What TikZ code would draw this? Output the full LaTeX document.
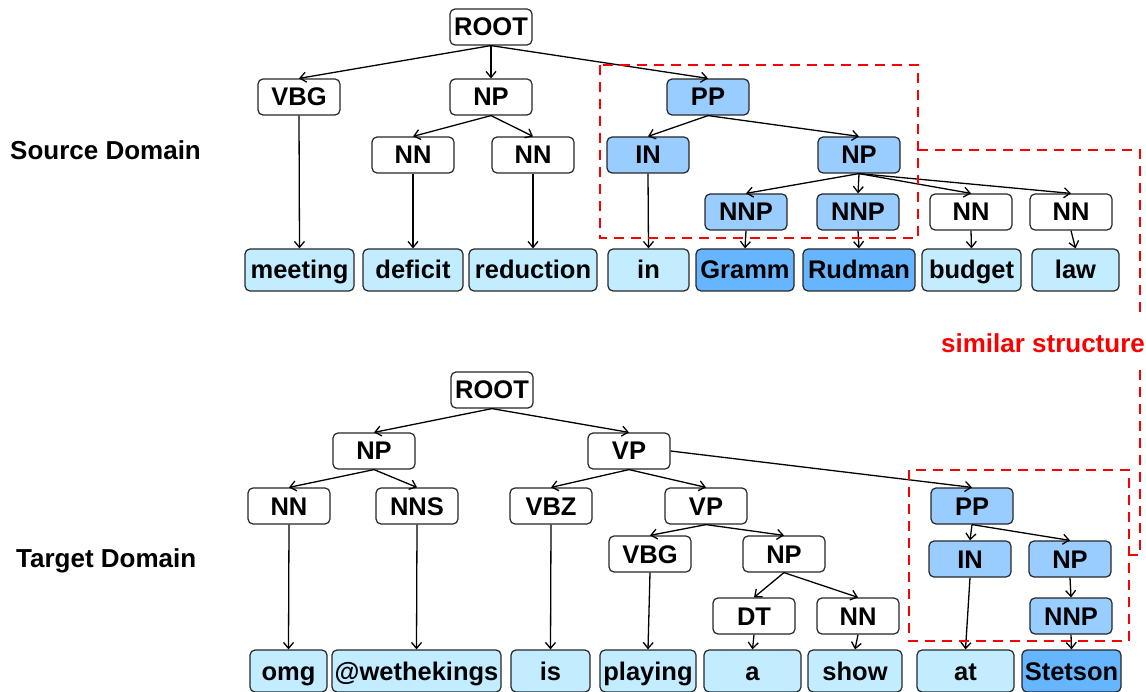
\documentclass[tikz,border=0pt]{standalone}
\usepackage{fontspec}
\setmainfont{Liberation Sans}
\usepackage{xcolor}
\usetikzlibrary{arrows.meta}
\definecolor{tagblue}{RGB}{153,204,255}
\definecolor{wordcyan}{RGB}{194,236,255}
\definecolor{wordblue}{RGB}{102,181,255}
\definecolor{simred}{RGB}{250,0,0}

\begin{document}
\begin{tikzpicture}[x=1pt,y=-1pt]
\tikzset{>={Straight Barb[width=10pt,length=6pt]}}
\tikzstyle{tagbox} =[draw=black!85, rounded corners=5pt, fill=white, line width=1.2pt, minimum width=82pt, minimum height=36pt, inner sep=0pt, text height=18pt, text depth=0pt, font=\fontsize{25.5}{30}\selectfont\bfseries]
\tikzstyle{hotbox} =[tagbox, fill=tagblue]
\tikzstyle{wordbox} =[tagbox, fill=wordcyan, minimum height=42pt]
\tikzstyle{hotword} =[wordbox, fill=wordblue]
\tikzstyle{sidelabel} =[font=\fontsize{26}{30}\selectfont\bfseries, inner sep=0pt]
\tikzstyle{simbox} =[draw=simred, line width=2.8pt, dash pattern=on 10pt off 7pt]
\tikzstyle{link} =[->, line width=1.3pt]

\useasboundingbox (0,0) rectangle (1146,692);

% domain labels
\node[sidelabel, anchor=west](srcLabel) at (10,150){Source Domain};
\node[sidelabel, anchor=west](tgtLabel) at (16,561){Target Domain};

% source tree
\node[tagbox](sRoot) at (491,27){ROOT};
\node[tagbox](sVBG) at (299,97){VBG};
\node[tagbox](sNP) at (491,97){NP};
\node[hotbox](sPP) at (708,97){PP};
\node[tagbox](sNN1) at (413,155){NN};
\node[tagbox](sNN2) at (533,155){NN};
\node[hotbox](sIN) at (648,155){IN};
\node[hotbox](sNP2) at (859,155){NP};
\node[hotbox](sNNP1) at (746,212){NNP};
\node[hotbox](sNNP2) at (858,212){NNP};
\node[tagbox](sNN3) at (971,212){NN};
\node[tagbox](sNN4) at (1071,212){NN};

\node[wordbox, minimum width=109pt](sW1) at (299.5,270){meeting};
\node[wordbox, minimum width=100pt](sW2) at (413,270){deficit};
\node[wordbox, minimum width=128pt](sW3) at (533,270){reduction};
\node[wordbox, minimum width=81pt](sW4) at (648.5,270){in};
\node[hotword, minimum width=98pt](sW5) at (745,270){Gramm};
\node[hotword, minimum width=112pt](sW6) at (859,270){Rudman};
\node[wordbox, minimum width=99pt](sW7) at (971.5,270){budget};
\node[wordbox, minimum width=87pt](sW8) at (1075.5,270){law};

\draw [link] (sRoot.south) to (sVBG.north);
\draw [link] (sRoot.south) to (sNP.north);
\draw [link] (sRoot.south) to (sPP.north);
\draw [link] (sNP.south) to (sNN1.north);
\draw [link] (sNP.south) to (sNN2.north);
\draw [link] (sPP.south) to (sIN.north);
\draw [link] (sPP.south) to (sNP2.north);
\draw [link] (sNP2.south) to (sNNP1.north);
\draw [link] (sNP2.south) to (sNNP2.north);
\draw [link] (sNP2.south) to (sNN3.north);
\draw [link] (sNP2.south) to (sNN4.north);
\draw [link] (sVBG.south) to (sW1.north);
\draw [link] (sNN1.south) to (sW2.north);
\draw [link] (sNN2.south) to (sW3.north);
\draw [link] (sIN.south) to (sW4.north);
\draw [link] (sNNP1.south) to (sW5.north);
\draw [link] (sNNP2.south) to (sW6.north);
\draw [link] (sNN3.south) to (sW7.north);
\draw [link] (sNN4.south) to (sW8.north);

% target tree
\node[tagbox](tRoot) at (492,390){ROOT};
\node[tagbox](tNP) at (374,451){NP};
\node[tagbox](tVP) at (629,451){VP};
\node[tagbox](tNN) at (289,506){NN};
\node[tagbox](tNNS) at (417,506){NNS};
\node[tagbox](tVBZ) at (551,506){VBZ};
\node[tagbox](tVP2) at (706,506){VP};
\node[hotbox](tPP) at (972,506){PP};
\node[tagbox](tVBG) at (650,554){VBG};
\node[tagbox](tNP2) at (784,554){NP};
\node[hotbox](tIN) at (970,559){IN};
\node[hotbox](tNP3) at (1070,559){NP};
\node[tagbox](tDT) at (754,616){DT};
\node[tagbox](tNN2) at (858,616){NN};
\node[hotbox](tNNP) at (1071,616){NNP};

\node[wordbox, minimum width=77pt](tW1) at (288.5,671){omg};
\node[wordbox, minimum width=169pt](tW2) at (416.5,671){@wethekings};
\node[wordbox, minimum width=79pt](tW3) at (550.5,671){is};
\node[wordbox, minimum width=96pt](tW4) at (648,671){playing};
\node[wordbox, minimum width=97pt](tW5) at (752.5,671){a};
\node[wordbox, minimum width=94pt](tW6) at (855,671){show};
\node[wordbox, minimum width=97pt](tW7) at (965.5,671){at};
\node[hotword, minimum width=99pt](tW8) at (1071.5,671){Stetson};

\draw [link] (tRoot.south) to (tNP.north);
\draw [link] (tRoot.south) to (tVP.north);
\draw [link] (tNP.south) to (tNN.north);
\draw [link] (tNP.south) to (tNNS.north);
\draw [link] (tVP.south) to (tVBZ.north);
\draw [link] (tVP.south) to (tVP2.north);
\draw [link] (tVP.east) to (tPP.north);
\draw [link] (tVP2.south) to (tVBG.north);
\draw [link] (tVP2.south) to (tNP2.north);
\draw [link] (tNP2.south) to (tDT.north);
\draw [link] (tNP2.south) to (tNN2.north);
\draw [link] (tPP.south) to (tIN.north);
\draw [link] (tPP.south) to (tNP3.north);
\draw [link] (tNP3.south) to (tNNP.north);
\draw [link] (tNN.south) to (tW1.north);
\draw [link] (tNNS.south) to (tW2.north);
\draw [link] (tVBZ.south) to (tW3.north);
\draw [link] (tVBG.south) to (tW4.north);
\draw [link] (tDT.south) to (tW5.north);
\draw [link] (tNN2.south) to (tW6.north);
\draw [link] (tIN.south) to (tW7.north);
\draw [link] (tNNP.south) to (tW8.north);

% similar structure
\draw [simbox] (600,65) rectangle (918,238);
\draw [simbox] (909,470) rectangle (1129,641);
\node[sidelabel, text=simred](sim) at (1043,343){similar structure};
\coordinate (sBoxR) at (918,150);
\coordinate (tBoxR) at (1129,555);
\coordinate (simTop) at (1140,313);
\coordinate (simBot) at (1140,370);
\draw [simbox] (sBoxR) -| (simTop);
\draw [simbox] (simBot) |- (tBoxR);
\end{tikzpicture}
\end{document}
